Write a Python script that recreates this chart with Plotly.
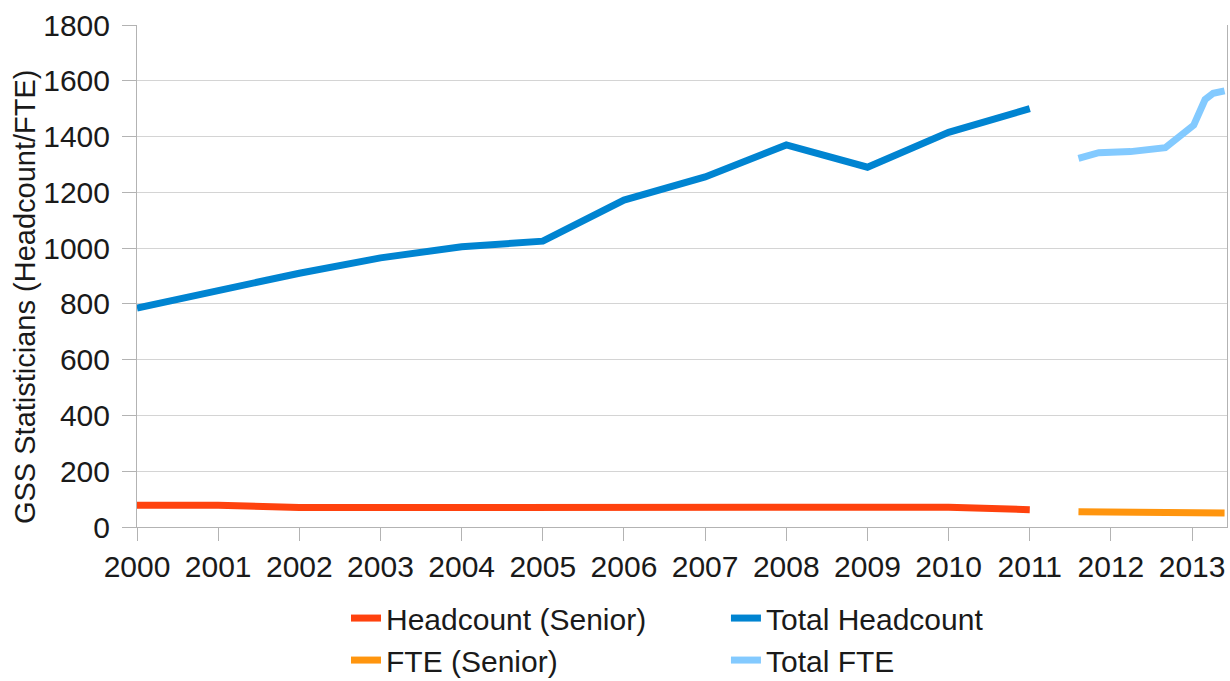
import plotly.graph_objects as go

years = [2000, 2001, 2002, 2003, 2004, 2005, 2006, 2007, 2008, 2009, 2010, 2011]
headcount_senior = [78, 78, 70, 70, 70, 70, 74, 75, 75, 72, 71, 62]
total_headcount = [785, 848, 910, 965, 1005, 1025, 1172, 1255, 1370, 1290, 1415, 1500]

fte_dates = [2011.6, 2011.85, 2012.24, 2012.67, 2013.02, 2013.16, 2013.26, 2013.4]
total_fte = [1322, 1342, 1346, 1360, 1441, 1533, 1555, 1564]
fte_senior = [55, 54, 50, 48, 50, 50, 50, 50]

tick_years = list(range(2000, 2014))
tick_labels = [str(y) for y in tick_years]

FONT = "Liberation Sans"
LW = 7

fig = go.Figure()
fig.add_trace(go.Scatter(x=years, y=headcount_senior, mode="lines", name="Headcount (Senior)",
                         line=dict(color="#ff420e", width=LW), legend="legend"))
fig.add_trace(go.Scatter(x=fte_dates, y=fte_senior, mode="lines", name="FTE (Senior)",
                         line=dict(color="#ff950e", width=LW), legend="legend"))
fig.add_trace(go.Scatter(x=years, y=total_headcount, mode="lines", name="Total Headcount",
                         line=dict(color="#0084d1", width=LW), legend="legend2"))
fig.add_trace(go.Scatter(x=fte_dates, y=total_fte, mode="lines", name="Total FTE",
                         line=dict(color="#83caff", width=LW), legend="legend2"))

legend_common = dict(orientation="v", xref="container", yref="container", yanchor="top",
                     xanchor="left", font=dict(family=FONT, size=30, color="#1a1a1a"),
                     bgcolor="rgba(0,0,0,0)", tracegroupgap=0, itemwidth=30)

fig.update_layout(
    width=1230, height=681,
    margin=dict(l=137, r=3, t=25, b=154, autoexpand=False),
    paper_bgcolor="white", plot_bgcolor="white",
    font=dict(family=FONT, size=30, color="#1a1a1a"),
    showlegend=True,
    legend=dict(x=0.2813, y=0.1306, **legend_common),
    legend2=dict(x=0.5902, y=0.1306, **legend_common),
    xaxis=dict(range=[2000, 2013.43], tickmode="array", tickvals=tick_years, ticktext=tick_labels,
               showgrid=False, zeroline=False, showline=True, linecolor="#b3b3b3", linewidth=1,
               ticks="outside", ticklen=13, tickcolor="#b3b3b3", tickangle=0, automargin=False,
               tickfont=dict(family=FONT, size=30, color="#1a1a1a")),
    yaxis=dict(range=[0, 1800], tickmode="linear", tick0=0, dtick=200, automargin=False,
               showgrid=True, gridcolor="#d4d4d4", gridwidth=1, zeroline=False,
               showline=True, linecolor="#b3b3b3", linewidth=1, mirror=True,
               ticks="outside", ticklen=14, tickcolor="#b3b3b3", ticklabelstandoff=6,
               tickfont=dict(family=FONT, size=30, color="#1a1a1a")),
    annotations=[dict(text="GSS Statisticians (Headcount/FTE)", textangle=-90,
                      xref="paper", yref="paper", x=-0.1028, y=0.46,
                      xanchor="center", yanchor="middle", showarrow=False,
                      font=dict(family=FONT, size=29, color="#1a1a1a"))],
)

fig.write_html("out.html", config={"displayModeBar": False},
               post_script="document.body.style.margin='0';document.body.style.overflow='hidden';")
